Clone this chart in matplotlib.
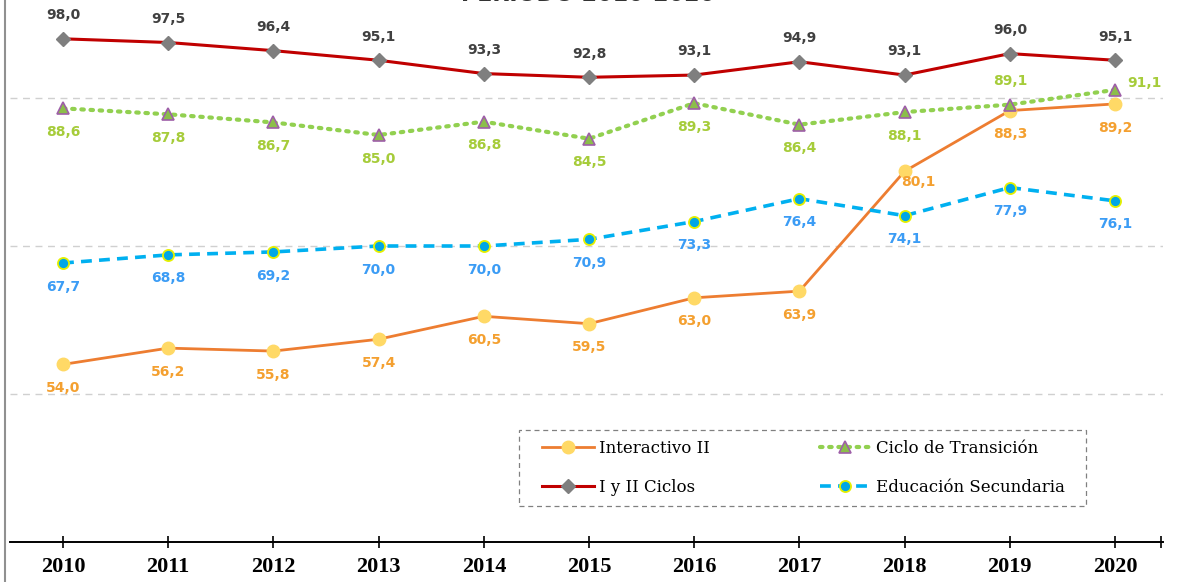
#!/usr/bin/env python3
"""Cobertura por nivel educativo, 2010-2020."""
import matplotlib
matplotlib.use('Agg')
import matplotlib.pyplot as plt
from matplotlib.lines import Line2D
from matplotlib.patches import Rectangle
from matplotlib.ticker import FixedLocator

YEARS = ["2010", "2011", "2012", "2013", "2014", "2015", "2016", "2017", "2018", "2019", "2020"]
interactivo = [54.0, 56.2, 55.8, 57.4, 60.5, 59.5, 63.0, 63.9, 80.1, 88.3, 89.2]
ciclos_i_ii = [98.0, 97.5, 96.4, 95.1, 93.3, 92.8, 93.1, 94.9, 93.1, 96.0, 95.1]
transicion = [88.6, 87.8, 86.7, 85.0, 86.8, 84.5, 89.3, 86.4, 88.1, 89.1, 91.1]
secundaria = [67.7, 68.8, 69.2, 70.0, 70.0, 70.9, 73.3, 76.4, 74.1, 77.9, 76.1]

W, H = 1177, 582
fig = plt.figure(figsize=(W / 100, H / 100), dpi=100)
ax = fig.add_axes([10 / W, 40 / H, 1153 / W, 542 / H])
x = list(range(len(YEARS)))
PPU = 7.4  # pixels per unit on y
ax.set_xlim(-0.504, 10.456)
ax.set_ylim(30, 30 + 542 / PPU)

for gy in (50, 70, 90):
    ax.axhline(gy, color="#d0d0d0", lw=1, ls=(0, (5, 4)), zorder=0)

ax.plot(x, interactivo, color="#ED7D31", lw=2.0, marker="o", ms=9,
        mfc="#FFD966", mec="#FFD966", label="Interactivo II", zorder=3)
ax.plot(x, ciclos_i_ii, color="#C00000", lw=2.2, marker="D", ms=7.5,
        mfc="#7F7F7F", mec="#7F7F7F", label="I y II Ciclos", zorder=3)
ax.plot(x, transicion, color="#92D050", lw=3, ls=(0, (0.6, 1.6)), dash_capstyle="round",
        marker="^", ms=9, mfc="#8CBE4A", mec="#9E5FA8", mew=1.2,
        label="Ciclo de Transición", zorder=4)
ax.plot(x, secundaria, color="#00B0F0", lw=2.6, ls=(0, (3, 2)), marker="o", ms=8,
        mfc="#00A6E6", mec="#E6F000", mew=1.3, label="Educación Secundaria", zorder=3)

def lab(v):
    return ("%.1f" % v).replace(".", ",")

fs = 10
for i in x:
    ax.annotate(lab(ciclos_i_ii[i]), (i, ciclos_i_ii[i]), xytext=(0, 17), textcoords="offset points",
                ha="center", va="center", fontsize=fs, fontweight="bold", color="#404040")
    off = (0, -17)
    if i == 9:
        off = (0, 17)
    elif i == 10:
        off = (21, 5)
    ax.annotate(lab(transicion[i]), (i, transicion[i]), xytext=off, textcoords="offset points",
                ha="center", va="center", fontsize=fs, fontweight="bold", color="#A6CC3A")
    off = (10, -8) if i == 8 else (0, -17)
    ax.annotate(lab(interactivo[i]), (i, interactivo[i]), xytext=off, textcoords="offset points",
                ha="center", va="center", fontsize=fs, fontweight="bold", color="#F4A030")
    ax.annotate(lab(secundaria[i]), (i, secundaria[i]), xytext=(0, -17), textcoords="offset points",
                ha="center", va="center", fontsize=fs, fontweight="bold", color="#3B9CF5")

for s in ("left", "top", "right"):
    ax.spines[s].set_visible(False)
ax.spines["bottom"].set_linewidth(1.4)
ax.spines["bottom"].set_color("black")
ax.set_yticks([])
ax.set_xticks(x)
ax.set_xticklabels(YEARS, fontfamily="Liberation Serif", fontweight="bold", fontsize=16)
ax.xaxis.set_minor_locator(FixedLocator([10.44]))
ax.tick_params(axis="x", which="both", direction="inout", length=8, width=1.2, pad=7, color="black")

# legend without frame, dashed box drawn separately
leg = ax.legend(ncol=2, loc="upper left", bbox_to_anchor=(542 / W, 1 - 440 / H),
                bbox_transform=fig.transFigure, prop={"family": "DejaVu Serif", "size": 12},
                handlelength=3.1, handletextpad=0.3, columnspacing=6.6, labelspacing=1.3,
                borderpad=0, frameon=False, borderaxespad=0)
fig.add_artist(Rectangle((519 / W, 1 - 506 / H), (1086 - 519) / W, 76 / H,
                         transform=fig.transFigure, fill=False, edgecolor="#808080",
                         lw=0.9, ls=(0, (4, 3))))

fig.add_artist(Line2D([5 / W, 5 / W], [0, 1], transform=fig.transFigure, color="#909090", lw=1.5))
fig.text(588 / W, 1 - 1 / H, "PERIODO 2010-2020", ha="center", va="baseline",
         fontsize=16, fontweight="bold", color="#333333")

fig.savefig("out.png", dpi=100)
